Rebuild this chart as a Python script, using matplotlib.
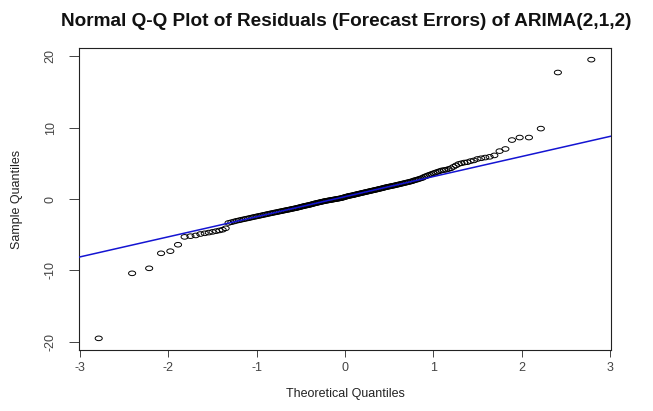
import numpy as np
import matplotlib
matplotlib.use("Agg")
import matplotlib.pyplot as plt
from matplotlib.path import Path
from statistics import NormalDist

title = "Normal Q-Q Plot of Residuals (Forecast Errors) of ARIMA(2,1,2)"
xlabel = "Theoretical Quantiles"
ylabel = "Sample Quantiles"
xticks = [-3, -2, -1, 0, 1, 2, 3]
yticks = [-20, -10, 0, 10, 20]

# sorted residuals (forecast errors)
residuals_low = [
    -19.5, -10.4, -9.7, -7.6, -7.3, -6.4, -5.3, -5.2, -5.1, -4.9,
    -4.8, -4.7, -4.6, -4.5, -4.4, -4.3, -4.1, -3.35, -3.25, -3.15,
    -3.05, -2.98, -2.9, -2.83, -2.76, -2.7, -2.63, -2.56, -2.5, -2.44,
    -2.38, -2.33, -2.27, -2.21, -2.16, -2.1, -2.05, -2.0, -1.95, -1.9,
    -1.86, -1.81, -1.76, -1.72, -1.67, -1.63, -1.58, -1.54, -1.5, -1.46,
    -1.41, -1.37, -1.33, -1.29, -1.25, -1.2, -1.15, -1.1, -1.05, -1.0,
    -0.96, -0.92, -0.88, -0.84, -0.8, -0.75, -0.7, -0.65, -0.6, -0.56,
    -0.52, -0.48, -0.44, -0.4, -0.36, -0.32, -0.28, -0.25, -0.22, -0.19,
    -0.16, -0.13, -0.1, -0.07, -0.04, -0.01, 0.02, 0.05, 0.08, 0.11,
    0.15, 0.2,
]
residuals_high = [
    0.26, 0.3, 0.35, 0.4, 0.44, 0.47, 0.5, 0.53, 0.57, 0.62,
    0.66, 0.7, 0.74, 0.78, 0.82, 0.86, 0.9, 0.94, 0.98, 1.02,
    1.06, 1.1, 1.14, 1.18, 1.22, 1.26, 1.3, 1.34, 1.39, 1.43,
    1.47, 1.52, 1.56, 1.62, 1.66, 1.7, 1.74, 1.78, 1.82, 1.86,
    1.9, 1.95, 2.0, 2.04, 2.09, 2.14, 2.19, 2.24, 2.29, 2.34,
    2.39, 2.45, 2.5, 2.6, 2.66, 2.72, 2.8, 2.88, 2.95, 3.1,
    3.2, 3.3, 3.4, 3.5, 3.6, 3.7, 3.8, 3.9, 4.0, 4.05,
    4.1, 4.2, 4.3, 4.5, 4.7, 4.9, 5.0, 5.1, 5.15, 5.3,
    5.4, 5.6, 5.7, 5.8, 5.9, 6.1, 6.7, 7.0, 8.25, 8.6,
    8.6, 9.85, 17.7, 19.5,
]

sample = np.sort(np.array(residuals_low + residuals_high))
n = len(sample)
nd = NormalDist()
a = 3/8 if n <= 10 else 0.5
theo = np.array([nd.inv_cdf((i + 1 - a) / (n + 1 - 2 * a)) for i in range(n)])

# qqline through the quartiles (R style)
q_s = np.percentile(sample, [25, 75])
q_t = np.array([nd.inv_cdf(0.25), nd.inv_cdf(0.75)])
slope = (q_s[1] - q_s[0]) / (q_t[1] - q_t[0])
intercept = q_s[0] - slope * q_t[0]

plt.rcParams['font.family'] = ['Liberation Sans', 'DejaVu Sans']

# slightly flattened open circle (as in the squashed reference image)
ang = np.linspace(0, 2 * np.pi, 41)
ellipse = Path(np.column_stack([np.cos(ang), 0.65 * np.sin(ang)]), closed=True)

fig = plt.figure(figsize=(6.53, 4.11), dpi=100)
ax = fig.add_axes([79/653, 1 - 349.5/411, (611-79)/653, (349.5-48.5)/411])

ax.scatter(theo, sample, s=26, marker=ellipse, facecolors='none',
           edgecolors='black', linewidths=0.7, zorder=3)
ax.axline((0, intercept), slope=slope, color='#1414d2', lw=1.1, zorder=4)

def rlim(v):
    lo, hi = min(v), max(v)
    d = (hi - lo) * 0.04
    return lo - d, hi + d

ax.set_xlim(*rlim(theo))
ax.set_ylim(*rlim(sample))
ax.set_xticks(xticks)
ax.set_yticks(yticks)
ax.set_xticklabels([str(t) for t in xticks], fontsize=9, color='#222222')
ax.set_yticklabels([str(t) for t in yticks], fontsize=9, color='#222222', rotation=90, va='center')
ax.tick_params(direction='out', width=0.7, colors='#444444')
ax.tick_params(axis='x', length=5, pad=4)
ax.tick_params(axis='y', length=7, pad=9)
for s in ax.spines.values():
    s.set_linewidth(0.8)
    s.set_color('#222222')

ax.set_xlabel(xlabel, fontsize=9, color='#222222', labelpad=10)
ax.set_ylabel(ylabel, fontsize=9, color='#222222', labelpad=16)
fig.text(346/653, 1 - 22/411, title, ha='center', va='center', fontsize=13.7,
         fontweight='bold', color='#111111')

fig.savefig("out.png", dpi=100)
